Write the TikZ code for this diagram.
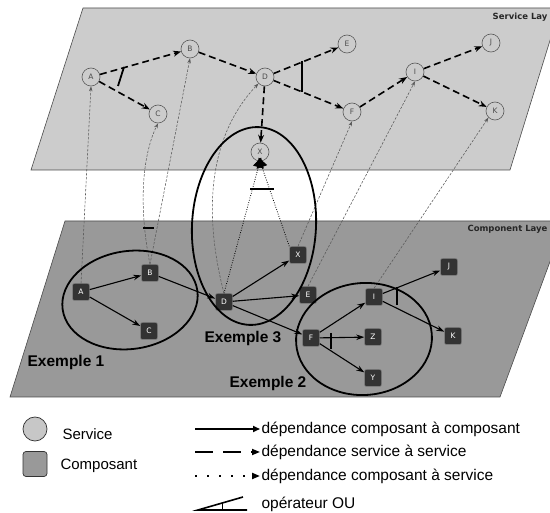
\documentclass[tikz,border=0pt]{standalone}
\usepackage{fontspec}
\setmainfont{Liberation Sans}
\newfontfamily\dvs{DejaVu Sans}
\usetikzlibrary{arrows.meta,calc}
\begin{document}
\begin{tikzpicture}[x=1pt,y=-1pt,
  svc/.style={circle,draw=black!65,line width=0.6pt,fill=black!20,minimum size=18pt,inner sep=0pt,font=\dvs\fontsize{7.5}{8}\selectfont,text=black!70},
  cmp/.style={rounded corners=2pt,draw=black!50,line width=0.5pt,fill=black!80,minimum size=17pt,inner sep=0pt,font=\dvs\fontsize{7.5}{8}\selectfont,text=white},
  sdep/.style={draw,line width=1.6pt,dash pattern=on 7pt off 4pt,-{Stealth[length=8pt,width=6pt]}},
  cdep/.style={draw,line width=1.1pt,-{Stealth[length=8pt,width=5.5pt]}},
  csdep/.style={draw=black!65,line width=0.55pt,dash pattern=on 2.5pt off 1.5pt,-{Stealth[length=5pt,width=3.5pt]}},
  dotdep/.style={draw,line width=0.8pt,dash pattern=on 0.8pt off 1.6pt,-{Triangle[length=10pt,width=11pt]}},
  orop/.style={draw,line width=1.8pt},
  grp/.style={draw,line width=1.8pt},
  exlbl/.style={font=\bfseries\fontsize{15.5}{16}\selectfont},
  laylbl/.style={anchor=east,font=\dvs\bfseries\fontsize{8.5}{9}\selectfont,text=black!85},
  lgtxt/.style={anchor=west,font=\fontsize{15.5}{16}\selectfont},
]
\useasboundingbox (0,0) rectangle (550,513);
\clip (0,0) rectangle (550,513);
\fill[white] (0,0) rectangle (550,513);

% layers
\filldraw[fill=black!20,draw=black!70,line width=0.6pt] (83,8) -- (560,8) -- (510,170) -- (31,170) -- cycle;
\filldraw[fill=black!40,draw=black!70,line width=0.6pt] (65,221) -- (565,221) -- (500,397) -- (10,397) -- cycle;
\node[laylbl] (slab) at (551,17) {Service Lay};
\node[laylbl] (clab) at (551,229) {Component Laye};

% service nodes
\node[svc] (sA) at (91,77) {A};
\node[svc] (sB) at (190,49) {B};
\node[svc] (sC) at (158,114) {C};
\node[svc] (sD) at (265,77) {D};
\node[svc] (sE) at (347,44) {E};
\node[svc] (sF) at (352,112) {F};
\node[svc] (sI) at (415,72) {I};
\node[svc] (sJ) at (491,43) {J};
\node[svc] (sK) at (495,111) {K};
\node[svc] (sX) at (260,152) {X};

% service edges
\draw[sdep] (sA) -- (sB);
\draw[sdep] (sA) -- (sC);
\draw[sdep] (sB) -- (sD);
\draw[sdep] (sD) -- (sE);
\draw[sdep] (sD) -- (sF);
\draw[sdep] (sD) -- (sX);
\draw[sdep] (sF) -- (sI);
\draw[sdep] (sI) -- (sJ);
\draw[sdep] (sI) -- (sK);
\draw[orop] (124,67) -- (118,86);
\draw[orop] (302,61) -- (302,92);

% component nodes
\node[cmp] (cA) at (81,292) {A};
\node[cmp] (cB) at (150,273) {B};
\node[cmp] (cC) at (149,331) {C};
\node[cmp] (cD) at (224,302) {D};
\node[cmp] (cX) at (298,255) {X};
\node[cmp] (cE) at (308,295) {E};
\node[cmp] (cF) at (311,338) {F};
\node[cmp] (cI) at (374,297) {I};
\node[cmp] (cJ) at (449,267) {J};
\node[cmp] (cZ) at (373,337) {Z};
\node[cmp] (cY) at (373,378) {Y};
\node[cmp] (cK) at (453,336) {K};

% component edges
\draw[cdep] (cA) -- (cB);
\draw[cdep] (cA) -- (cC);
\draw[cdep] (cB) -- (cD);
\draw[cdep] (cD) -- (cX);
\draw[cdep] (cD) -- (cE);
\draw[cdep] (cD) -- (cF);
\draw[cdep] (cF) -- (cI);
\draw[cdep] (cF) -- (cZ);
\draw[cdep] (cF) -- (cY);
\draw[cdep] (cI) -- (cJ);
\draw[cdep] (cI) -- (cK);
\draw[orop,line width=1.5pt] (331,333) -- (331,349);
\draw[orop,line width=1.5pt] (397,287) -- (397,305);

% component -> service
\draw[csdep] (cA.north) -- (sA.south);
\draw[csdep] (cB.north) .. controls (140,215) and (140,160) .. (sC.south);
\draw[csdep] (cB.north) -- (sB.south);
\draw[csdep] (cD.north) .. controls (205,220) and (205,140) .. (sD.south west);
\draw[csdep] (cX.north) -- (sF.south);
\draw[csdep] (cE.north) -- (sI.south);
\draw[csdep] (cI.north) -- (sK.south west);
\draw[dotdep,shorten >=-4pt] (cD.north) -- (sX.south);
\draw[dotdep,shorten >=-4pt] (cX.north west) -- (sX.south);
\draw[orop] (143,228) -- (154,228);
\draw[orop] (250,189) -- (274,189);

% groups
\draw[grp,rotate around={8:(130,300)}] (130,300) ellipse [x radius=68pt, y radius=49pt];
\draw[grp,rotate around={-3:(254,226)}] (254,226) ellipse [x radius=62pt, y radius=99pt];
\draw[grp,rotate around={4:(364,339)}] (364,339) ellipse [x radius=68pt, y radius=56pt];
\node[exlbl] (ex1) at (66,362) {Exemple 1};
\node[exlbl] (ex3) at (243,338) {Exemple 3};
\node[exlbl] (ex2) at (268,383) {Exemple 2};

% legend
\node[circle,draw=black!80,line width=0.7pt,fill=black!22,minimum size=24pt,inner sep=0pt] (lsvc) at (35,429) {};
\node[lgtxt,font=\fontsize{15}{16}\selectfont] (lsvct) at (59,434) {Service};
\node[rounded corners=3pt,draw=black!80,line width=0.7pt,fill=black!40,minimum width=24pt,minimum height=25pt,inner sep=0pt] (lcmp) at (35,464) {};
\node[lgtxt,font=\fontsize{15}{16}\selectfont] (lcmpt) at (57,466) {Composant};

\coordinate (l1a) at (195,429); \coordinate (l1b) at (260,429);
\draw[line width=1.6pt,-{Triangle[length=7pt,width=6pt]}] (l1a) -- (l1b);
\node[lgtxt] (l1t) at (258,429) {dépendance composant à composant};
\coordinate (l2a) at (195,452); \coordinate (l2b) at (260,452);
\draw[line width=1.6pt,dash pattern=on 18pt off 10pt,-{Triangle[length=8pt,width=6pt]}] (l2a) -- (l2b);
\node[lgtxt] (l2t) at (258,452) {dépendance service à service};
\coordinate (l3a) at (195,476); \coordinate (l3b) at (260,476);
\draw[line width=2pt,dash pattern=on 2pt off 10pt,-{Triangle[length=8pt,width=6pt]}] (l3a) -- (l3b);
\node[lgtxt] (l3t) at (258,476) {dépendance composant à service};
\coordinate (o1) at (198,510); \coordinate (o2) at (247,510); \coordinate (o3) at (243,497);
\coordinate (o4) at (222,503.5); \coordinate (o5) at (222,510);
\draw[line width=1.6pt] (o2) -- (o1) -- (o3);
\draw[line width=0.8pt] (o4) -- (o5);
\node[lgtxt] (l4t) at (258,504) {opérateur OU};
\end{tikzpicture}
\end{document}
